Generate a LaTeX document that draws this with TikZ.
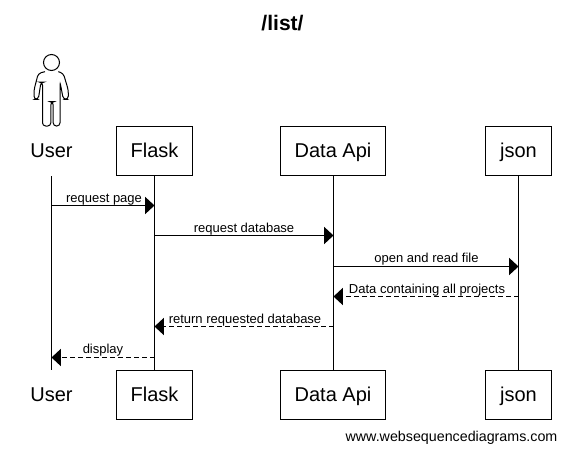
\documentclass[tikz,border=0pt]{standalone}
\usepackage{fontspec}
\setmainfont{Liberation Sans}
\usetikzlibrary{arrows.meta}

\tikzset{
  actor/.style={draw, line width=0.75pt, minimum height=36.75pt, inner sep=0pt, text height=11.6pt, text depth=2pt, font=\fontsize{15}{18}\selectfont},
  actorplain/.style={minimum width=40pt, minimum height=37.5pt, inner sep=0pt, text height=11.6pt, text depth=2pt, font=\fontsize{15}{18}\selectfont},
  lifeline/.style={line width=0.75pt},
  message/.style={line width=0.75pt, -{Triangle[length=7pt,width=12.8pt]}},
  reply/.style={message, dash pattern=on 3.75pt off 2.25pt},
  msglabel/.style={inner sep=0pt, anchor=base, font=\fontsize{9.75}{11}\selectfont}
}

\begin{document}
\begin{tikzpicture}[x=0.75pt, y=-0.75pt]
  \useasboundingbox (0, 0) rectangle (566, 453);
  \node[font=\bfseries\fontsize{15.8}{18}\selectfont, inner sep=0pt] (title) at (282.5, 23) {/list/};

  % stick figure
  \draw[line width=0.75pt] (51.5, 62.5) circle (8);
  \draw[line width=0.75pt, rounded corners=2.4pt]
    (45, 71.7) -- (38.3, 73.3) -- (34, 90) -- (34, 99.3) -- (38.3, 99.3) -- (41, 82)
    -- (42.5, 82) -- (42.5, 126) -- (50.8, 126) -- (50.8, 101.7) -- (53.2, 101.7)
    -- (53.2, 126) -- (60, 126) -- (60, 82) -- (63.3, 99.3) -- (68.3, 99.3)
    -- (68.3, 90) -- (63.3, 73.3) -- (58.3, 71.7);

  % top row
  \node[actorplain] (user) at (51.5, 151) {User};
  \node[actor, minimum width=57pt] (flask) at (154.5, 151) {Flask};
  \node[actor, minimum width=79pt] (data) at (333, 151) {Data Api};
  \node[actor, minimum width=49.5pt] (json) at (518.5, 151) {json};

  % bottom row
  \node[actorplain] (user2) at (51.5, 395) {User};
  \node[actor, minimum width=57pt] (flask2) at (154.5, 395) {Flask};
  \node[actor, minimum width=79pt] (data2) at (333, 395) {Data Api};
  \node[actor, minimum width=49.5pt] (json2) at (518.5, 395) {json};

  \draw[lifeline] (user.south) -- (user2.north);
  \draw[lifeline] (flask.south) -- (flask2.north);
  \draw[lifeline] ([xshift=0.375pt]data.south) -- ([xshift=0.375pt]data2.north);
  \draw[lifeline] (json.south) -- (json2.north);

  % messages
  \coordinate (u1) at (51.5, 205.5);
  \coordinate (f1) at (154.5, 205.5);
  \coordinate (f2) at (154.5, 235.5);
  \coordinate (d2) at (333.5, 235.5);
  \coordinate (d3) at (333.5, 266.5);
  \coordinate (j3) at (518.5, 266.5);
  \coordinate (j4) at (518.5, 296.5);
  \coordinate (d4) at (333.5, 296.5);
  \coordinate (d5) at (333.5, 326.5);
  \coordinate (f5) at (154.5, 326.5);
  \coordinate (f6) at (154.5, 357.5);
  \coordinate (u6) at (51.5, 357.5);
  \draw[message] (u1) -- (f1);
  \draw[message] (f2) -- (d2);
  \draw[message] (d3) -- (j3);
  \draw[reply] (j4) -- (d4);
  \draw[reply] (d5) -- (f5);
  \draw[reply] (f6) -- (u6);

  \node[msglabel] (l1) at (104, 202) {request page};
  \node[msglabel] (l2) at (244, 232) {request database};
  \node[msglabel] (l3) at (426.5, 262) {open and read file};
  \node[msglabel] (l4) at (427, 293) {Data containing all projects};
  \node[msglabel] (l5) at (245, 323) {return requested database};
  \node[msglabel] (l6) at (103, 353) {display};

  \node[inner sep=0pt, font=\fontsize{10.7}{13}\selectfont] (site) at (451.5, 438) {www.websequencediagrams.com};
\end{tikzpicture}
\end{document}
